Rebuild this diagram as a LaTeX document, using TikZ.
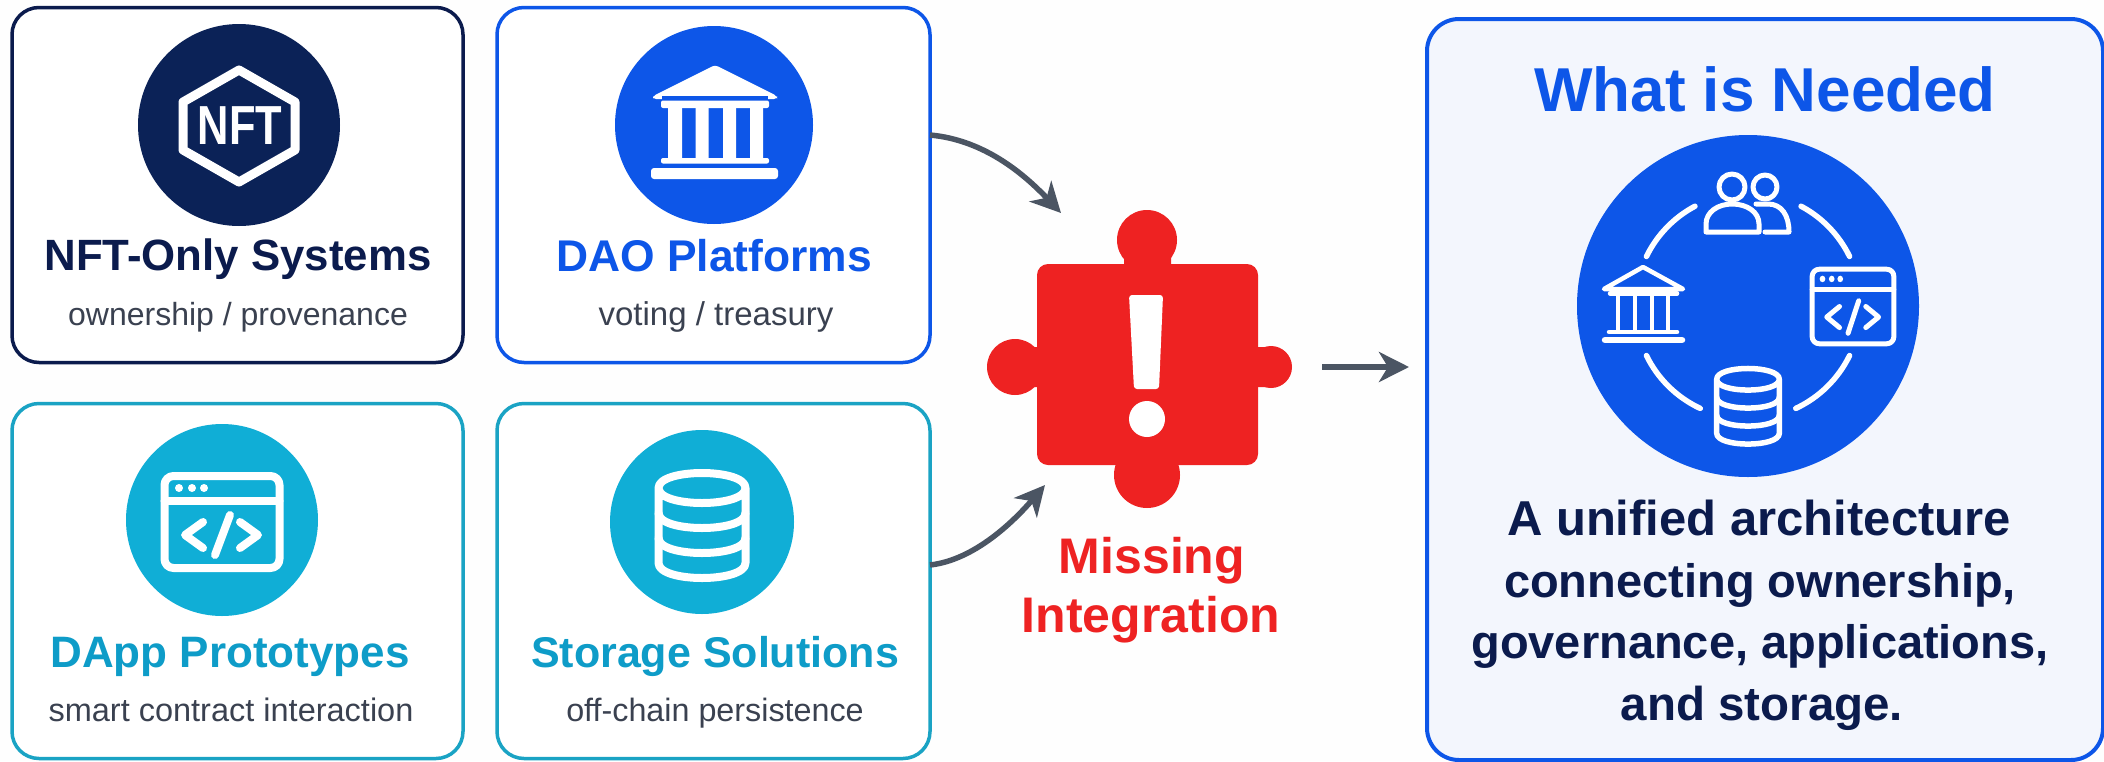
\documentclass[tikz,border=0pt]{standalone}
\usepackage{fontspec}
\setmainfont{Liberation Sans}
\usetikzlibrary{arrows.meta}
\definecolor{navy}{HTML}{0B1B4D}
\definecolor{navyc}{HTML}{0B2257}
\definecolor{blu}{HTML}{0D56E8}
\definecolor{cyc}{HTML}{10AED6}
\definecolor{cyt}{HTML}{0E9CC8}
\definecolor{cyb}{HTML}{1AA3C4}
\definecolor{grayt}{HTML}{3A4150}
\definecolor{arrowc}{HTML}{4B5563}
\definecolor{redc}{HTML}{EE2222}
\definecolor{panel}{HTML}{F3F6FD}
\tikzset{
  card/.style={rectangle,fill=white,line width=3.5pt,rounded corners=27pt,inner sep=0pt,outer sep=0pt,minimum width=#1,minimum height=355pt},
  disc/.style={circle,inner sep=0pt,outer sep=0pt},
  cardtitle/.style={anchor=base,inner sep=0pt,font=\fontsize{#1}{50}\selectfont\bfseries},
  cardsub/.style={anchor=base,inner sep=0pt,text=grayt,font=\fontsize{#1}{38}\selectfont},
  flow/.style={draw=arrowc,line width=5.5pt,-{Stealth[length=30pt,width=30pt,inset=9pt]}},
  wl/.style={draw=white,line cap=round,line join=round},
  bodytext/.style={anchor=base,inner sep=0pt,text=navy,font=\fontsize{#1}{52}\selectfont\bfseries},
}
% window icon: x, y, xscale, yscale, line width, corner
\newcommand{\windowicon}[6]{%
  \begin{scope}[shift={(#1,#2)},xscale=#3,yscale=#4]
    \draw[wl,line width=#5pt,rounded corners=#6pt] (-57.5,-46) rectangle (57.5,46);
    \draw[wl,line width=#5pt] (-57.5,-21) -- (57.5,-21);
    \fill[white] (-43,-34) circle [radius=4] (-30,-34) circle [radius=4] (-18,-34) circle [radius=4];
    \draw[wl,line width=#5pt] (-19,0) -- (-37,13) -- (-19,26);
    \draw[wl,line width=#5pt] (18,0) -- (36,13) -- (18,26);
    \draw[wl,line width=#5pt] (8,-7) -- (-7,33);
  \end{scope}}
% database icon: x, y, scale, line width
\newcommand{\dbicon}[4]{%
  \begin{scope}[shift={(#1,#2)},scale=#3]
    \draw[wl,line width=#4pt]
      (-43.5,-38.5) .. controls (-43.5,-58.5) and (43.5,-58.5) .. (43.5,-38.5)
      .. controls (43.5,-18.5) and (-43.5,-18.5) .. (-43.5,-38.5) -- (-43.5,36.5)
      .. controls (-43.5,56.5) and (43.5,56.5) .. (43.5,36.5) -- (43.5,-38.5);
    \draw[wl,line width=#4pt] (-43.5,-13.5) .. controls (-43.5,6.5) and (43.5,6.5) .. (43.5,-13.5);
    \draw[wl,line width=#4pt] (-43.5,11.5) .. controls (-43.5,31.5) and (43.5,31.5) .. (43.5,11.5);
  \end{scope}}
\begin{document}
\begin{tikzpicture}[x=1pt,y=-1pt]
\useasboundingbox (0,0) rectangle (2104,761);
\fill[white!99.5!black] (0,0) rectangle (2104,761);

% cards
\node[card=451pt,draw=navy] (nft) at (237.5,185) {};
\node[card=433pt,draw=blu] (dao) at (713.5,185) {};
\node[card=451pt,draw=cyb] (dapp) at (237.5,581) {};
\node[card=433pt,draw=cyb] (store) at (713.5,581) {};

% NFT
\node[disc,fill=navyc,minimum size=202pt] (nftc) at (239,125) {};
\draw[wl,line width=9pt] (239,70) -- (295,102) -- (295,150) -- (239,182) -- (183,150) -- (183,102) -- cycle;
\node[transform shape,xscale=.79,inner sep=0pt,text=white,font=\fontsize{55}{60}\selectfont\bfseries] (nftt) at (240,126) {NFT};
\node[cardtitle=43.8,text=navy] (nftn) at (238,270) {NFT-Only Systems};
\node[cardsub=32] (nfts) at (238,325) {ownership / provenance};

% DAO
\node[disc,fill=blu,minimum size=198pt] (daoc) at (714,125) {};
\fill[white,rounded corners=3pt] (715,65) -- (777,96) -- (777,99) -- (653,99) -- (653,96) -- cycle;
\fill[blu] (662,96) rectangle (768,100);
\fill[white,rounded corners=2pt] (661,100.5) rectangle (769,108);
\fill[white] (668,107) rectangle (682,159) (695.5,107) rectangle (708.5,159) (723,107) rectangle (736,159) (750,107) rectangle (763,159);
\fill[white,rounded corners=2pt] (661,158) rectangle (769,163.5);
\fill[white,rounded corners=3pt] (651,168) rectangle (778,179);
\node[cardtitle=44.4,text=blu] (daon) at (714,271) {DAO Platforms};
\node[cardsub=33] (daos) at (716,325) {voting / treasury};

% DApp
\node[disc,fill=cyc,minimum size=192pt] (dappc) at (222,520) {};
\windowicon{222}{522}{1}{1}{8}{9}
\node[cardtitle=44,text=cyt] (dappn) at (230,667) {DApp Prototypes};
\node[cardsub=32.5] (dapps) at (231,721) {smart contract interaction};

% Storage
\node[disc,fill=cyc,minimum size=184pt] (storec) at (702,522) {};
\dbicon{702}{526.5}{1}{8}
\node[cardtitle=43,text=cyt] (storen) at (715,667) {Storage Solutions};
\node[cardsub=32.3] (stores) at (715,721) {off-chain persistence};

% puzzle
\fill[redc] (1147,240) circle [radius=30] (1147,475) circle [radius=33] (1015,367) circle [radius=28] (1271,367) circle [radius=21];
\fill[redc] (1124,255) rectangle (1171,266) (1028,347) rectangle (1040,387) (1256,347) rectangle (1268,387);
\node[rectangle,fill=redc,rounded corners=11pt,minimum width=221pt,minimum height=201pt,inner sep=0pt,outer sep=0pt] (puzzle) at (1147.5,364.5) {};
\fill[white,rounded corners=3pt] (1129,295) -- (1163,295) -- (1159,389) -- (1134,389) -- cycle;
\fill[white] (1147,419) circle [radius=18];
\node[anchor=base,inner sep=0pt,text=redc,font=\fontsize{50}{56}\selectfont\bfseries] (miss) at (1152,573) {Missing};
\node[anchor=base,inner sep=0pt,text=redc,font=\fontsize{50}{56}\selectfont\bfseries] (integ) at (1151,632) {Integration};

% panel
\node[rectangle,fill=panel,draw=blu,line width=4pt,rounded corners=32pt,minimum width=676pt,minimum height=741pt,inner sep=0pt,outer sep=0pt] (need) at (1765,389.5) {};
\node[anchor=base,inner sep=0pt,text=blu,font=\fontsize{62}{68}\selectfont\bfseries] (whatis) at (1765,111) {What is Needed};
\node[disc,fill=blu,minimum size=342pt] (ring) at (1748,306) {};
\begin{scope}[shift={(1748,306)}]
  \draw[wl,line width=5.5pt] (26:113pt) arc [start angle=26,end angle=62,radius=113pt];
  \draw[wl,line width=5.5pt] (118:113pt) arc [start angle=118,end angle=154,radius=113pt];
  \draw[wl,line width=5.5pt] (206:113pt) arc [start angle=206,end angle=245,radius=113pt];
  \draw[wl,line width=5.5pt] (295:113pt) arc [start angle=295,end angle=334,radius=113pt];
\end{scope}
% people
\draw[wl,line width=5pt] (1732,187) circle [radius=13] (1765,187) circle [radius=12];
\draw[wl,line width=5pt] (1706,232) -- (1706,224) .. controls (1706,212) and (1718,204) .. (1732,204) .. controls (1747,204) and (1759,212) .. (1759,224) -- (1759,232) -- cycle;
\draw[wl,line width=5pt] (1756,204) -- (1768,204) .. controls (1782,204) and (1789,216) .. (1789,232) -- (1765,232);
% small bank
\draw[wl,line width=4.5pt] (1643,267) -- (1683,289) -- (1604,289) -- cycle;
\draw[wl,line width=4.5pt] (1610,293.5) -- (1677,293.5);
\draw[wl,line width=4.5pt] (1618,296) -- (1618,330) (1635,296) -- (1635,330) (1652,296) -- (1652,330) (1668,296) -- (1668,330);
\draw[wl,line width=4.5pt] (1609,332) -- (1677,332);
\draw[wl,line width=6.5pt] (1605,340) -- (1682,340);
% small window and db
\windowicon{1853}{306.5}{0.71}{0.81}{5}{7}
\dbicon{1748}{407}{0.72}{5.5}
% text
\node[bodytext=49] (t1) at (1759,535) {A unified architecture};
\node[bodytext=47] (t2) at (1760,597) {connecting ownership,};
\node[bodytext=47] (t3) at (1760,658) {governance, applications,};
\node[bodytext=47.5] (t4) at (1762,720) {and storage.};

% connectors
\draw[flow] ([yshift=50pt]dao.east) .. controls (985,140) and (1025,175) .. ([xshift=24pt,yshift=51pt]puzzle.north west);
\draw[flow] ([yshift=16pt]store.east) .. controls (975,560) and (1015,520) .. ([xshift=8pt,yshift=-20pt]puzzle.south west);
\draw[flow] ([xshift=64pt,yshift=-2.5pt]puzzle.east) -- ([xshift=-18pt,yshift=22.5pt]need.west);
\end{tikzpicture}
\end{document}
